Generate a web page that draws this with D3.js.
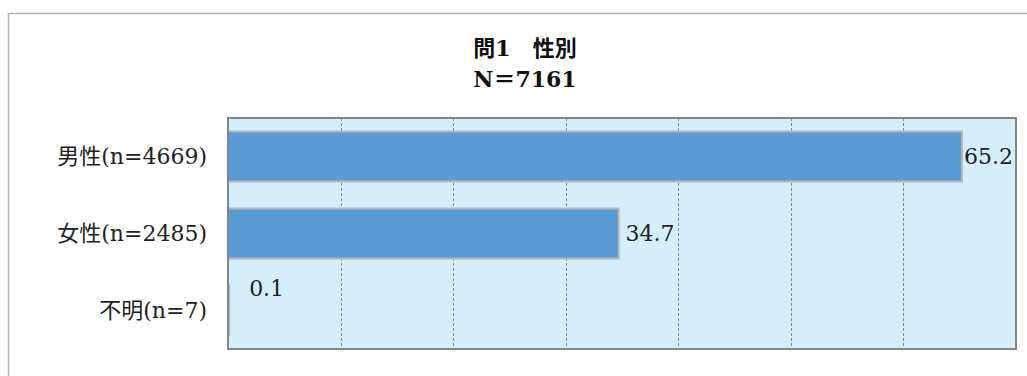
<!DOCTYPE html>
<html>
<head>
<meta charset="utf-8">
<script src="https://cdn.jsdelivr.net/npm/d3@7"></script>
<style>
  html, body { margin: 0; padding: 0; background: #fff; }
  svg { display: block; }
</style>
</head>
<body>
<svg id="chart"></svg>
<script>
// chart data
const categories = ["男性(n=4669)", "女性(n=2485)", "不明(n=7)"];
const percents = [65.2, 34.7, 0.1];
const titleLines = ["問1　性別", "N＝7161"];
const gridTicks = [0, 10, 20, 30, 40, 50, 60, 70];

const W = 1027, H = 376;
const plot = { left: 228, right: 1016, top: 118, bottom: 349 };
const font = "'DejaVu Serif', 'Noto Sans CJK JP', serif";

const svg = d3.select("#chart")
  .attr("width", W)
  .attr("height", H);

// outer chart frame (runs off the right/bottom of the picture)
svg.append("rect")
  .attr("x", 8.5).attr("y", 13.5)
  .attr("width", 1040).attr("height", 400)
  .attr("fill", "#fff")
  .attr("stroke", "#b4b4b4")
  .attr("stroke-width", 1.5);

// title
svg.append("g")
  .selectAll("text")
  .data(titleLines)
  .join("text")
  .attr("x", 525)
  .attr("y", (d, i) => 56 + i * 31)
  .attr("text-anchor", "middle")
  .attr("font-family", font)
  .attr("font-size", 22)
  .attr("font-weight", "bold")
  .attr("fill", "#111")
  .text(d => d);

const x = d3.scaleLinear()
  .domain([0, 70])
  .range([plot.left, plot.right]);

const y = d3.scaleBand()
  .domain(categories)
  .range([plot.top, plot.bottom])
  .paddingInner(0.35)
  .paddingOuter(0.175);

// plot background
svg.append("rect")
  .attr("x", plot.left).attr("y", plot.top)
  .attr("width", plot.right - plot.left)
  .attr("height", plot.bottom - plot.top)
  .attr("fill", "#d4eefc");

// dashed vertical gridlines
svg.append("g")
  .selectAll("line")
  .data(gridTicks.slice(1, -1))
  .join("line")
  .attr("x1", d => Math.round(x(d)) + 0.5)
  .attr("x2", d => Math.round(x(d)) + 0.5)
  .attr("y1", plot.top)
  .attr("y2", plot.bottom)
  .attr("stroke", "#8a8a8a")
  .attr("stroke-width", 1)
  .attr("stroke-dasharray", "3,2");

// bars
svg.append("g")
  .selectAll("rect")
  .data(percents)
  .join("rect")
  .attr("x", x(0))
  .attr("y", (d, i) => y(categories[i]))
  .attr("width", d => x(d) - x(0))
  .attr("height", y.bandwidth())
  .attr("fill", "#5b9bd5")
  .attr("stroke", "#b7b7b7")
  .attr("stroke-width", 2);

// plot border
svg.append("rect")
  .attr("x", plot.left).attr("y", plot.top)
  .attr("width", plot.right - plot.left)
  .attr("height", plot.bottom - plot.top)
  .attr("fill", "none")
  .attr("stroke", "#858585")
  .attr("stroke-width", 2);

// category labels
svg.append("g")
  .selectAll("text")
  .data(categories)
  .join("text")
  .attr("x", plot.left - 21)
  .attr("y", d => y(d) + y.bandwidth() / 2)
  .attr("dy", "0.35em")
  .attr("text-anchor", "end")
  .attr("font-family", font)
  .attr("font-size", 22)
  .attr("fill", "#222")
  .text(d => d);

// value labels
const vals = svg.append("g")
  .selectAll("text")
  .data(percents)
  .join("text")
  .attr("font-family", font)
  .attr("font-size", 22)
  .attr("fill", "#222")
  .text(d => d.toFixed(1));

vals.each(function (d, i) {
  const t = d3.select(this);
  const w = this.getComputedTextLength();
  const cy = y(categories[i]) + y.bandwidth() / 2;
  if (d < 1) {
    // tiny bar: label sits up and to the right
    t.attr("x", x(d) + 20).attr("y", cy - 22).attr("dy", "0.35em");
  } else {
    t.attr("x", Math.min(x(d) + 7, plot.right - w - 3))
     .attr("y", cy).attr("dy", "0.35em");
  }
});
</script>
</body>
</html>
